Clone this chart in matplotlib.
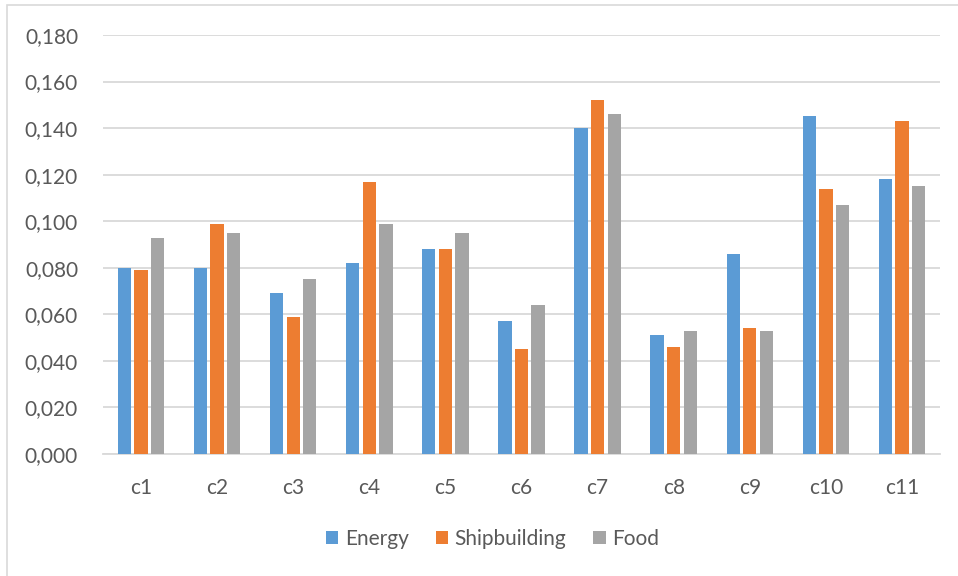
import matplotlib.pyplot as plt
import numpy as np
from matplotlib.patches import Rectangle

categories = ["c1", "c2", "c3", "c4", "c5", "c6", "c7", "c8", "c9", "c10", "c11"]
energy = [0.080, 0.080, 0.069, 0.082, 0.088, 0.057, 0.140, 0.051, 0.086, 0.145, 0.118]
shipbuilding = [0.079, 0.099, 0.059, 0.117, 0.088, 0.045, 0.152, 0.046, 0.054, 0.114, 0.143]
food = [0.093, 0.095, 0.075, 0.099, 0.095, 0.064, 0.146, 0.053, 0.053, 0.107, 0.115]
yticks = [0.0, 0.02, 0.04, 0.06, 0.08, 0.10, 0.12, 0.14, 0.16, 0.18]

plt.rcParams['font.family'] = ['Lato', 'DejaVu Sans']
text_color = "#595959"

fig = plt.figure(figsize=(9.58, 5.76), dpi=100)
ax = fig.add_axes([103/958, 1 - 454/576, (940 - 103)/958, (454 - 35)/576])

# outer chart border, only top/left visible in the source
fig.patches.append(Rectangle((7/958, -0.1), 1.2, 1 - 5/576 + 0.1,
                             transform=fig.transFigure, fill=False,
                             edgecolor="#d9d9d9", linewidth=1.2))

x = np.arange(len(categories))
w = 0.175
step = 0.218
ax.bar(x - step, energy, w, color="#5B9BD5", label="Energy", zorder=3)
ax.bar(x, shipbuilding, w, color="#ED7D31", label="Shipbuilding", zorder=3)
ax.bar(x + step, food, w, color="#A5A5A5", label="Food", zorder=3)

ax.set_xlim(-0.5, len(categories) - 0.5)
ax.set_ylim(0, 0.18)
ax.set_yticks(yticks)
ax.set_yticklabels([f"{v:.3f}".replace(".", ",") for v in yticks])
ax.set_xticks(x)
ax.set_xticklabels(categories)

ax.grid(axis="y", color="#d9d9d9", linewidth=1.3, zorder=0)
for s in ["top", "right", "left"]:
    ax.spines[s].set_visible(False)
ax.spines["bottom"].set_color("#d9d9d9")
ax.spines["bottom"].set_linewidth(1.3)
ax.tick_params(axis="both", length=0, labelsize=15, colors=text_color)
ax.tick_params(axis="y", pad=18)
ax.tick_params(axis="x", pad=17)

leg = fig.legend(loc="center", bbox_to_anchor=(0.514, 1 - 539/576), ncol=3,
                 frameon=False, fontsize=15, handlelength=0.6, handleheight=0.6,
                 handletextpad=0.3, columnspacing=1.3)
for t in leg.get_texts():
    t.set_color(text_color)

fig.savefig("out.png", dpi=100)
